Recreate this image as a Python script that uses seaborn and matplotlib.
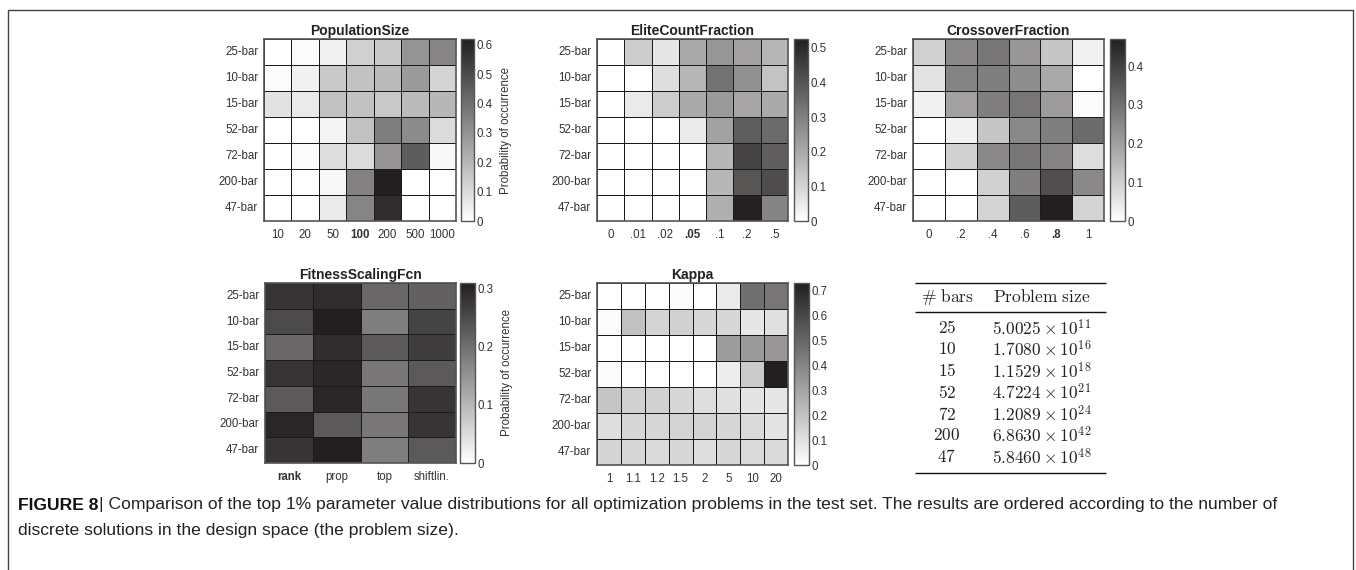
import numpy as np
import pandas as pd
import matplotlib
matplotlib.use("Agg")
import matplotlib.pyplot as plt
import seaborn as sns
from matplotlib.colors import LinearSegmentedColormap

# ---------------------------------------------------------------- data
problems = ["25-bar", "10-bar", "15-bar", "52-bar", "72-bar", "200-bar", "47-bar"]

pop_labels = ["10", "20", "50", "100", "200", "500", "1000"]
pop_prob = [
    [0.00, 0.01, 0.04, 0.13, 0.15, 0.30, 0.34],
    [0.01, 0.04, 0.15, 0.17, 0.19, 0.28, 0.12],
    [0.08, 0.06, 0.17, 0.17, 0.15, 0.19, 0.20],
    [0.00, 0.00, 0.03, 0.17, 0.36, 0.32, 0.10],
    [0.00, 0.01, 0.09, 0.10, 0.30, 0.45, 0.02],
    [0.00, 0.00, 0.02, 0.35, 0.62, 0.00, 0.00],
    [0.00, 0.00, 0.06, 0.34, 0.58, 0.00, 0.00],
]

elite_labels = ["0", ".01", ".02", ".05", ".1", ".2", ".5"]
elite_prob = [
    [0.00, 0.12, 0.06, 0.20, 0.25, 0.22, 0.17],
    [0.00, 0.00, 0.08, 0.17, 0.33, 0.26, 0.14],
    [0.00, 0.05, 0.12, 0.20, 0.24, 0.21, 0.20],
    [0.00, 0.00, 0.00, 0.05, 0.22, 0.38, 0.35],
    [0.00, 0.00, 0.00, 0.00, 0.17, 0.44, 0.38],
    [0.00, 0.00, 0.00, 0.00, 0.17, 0.40, 0.42],
    [0.00, 0.00, 0.00, 0.00, 0.19, 0.52, 0.29],
]

cross_labels = ["0", ".2", ".4", ".6", ".8", "1"]
cross_prob = [
    [0.10, 0.25, 0.29, 0.22, 0.12, 0.03],
    [0.06, 0.26, 0.27, 0.24, 0.18, 0.00],
    [0.03, 0.20, 0.27, 0.29, 0.21, 0.01],
    [0.00, 0.03, 0.12, 0.25, 0.27, 0.31],
    [0.00, 0.10, 0.25, 0.29, 0.26, 0.07],
    [0.00, 0.00, 0.10, 0.27, 0.37, 0.25],
    [0.00, 0.00, 0.09, 0.34, 0.47, 0.09],
]

fit_labels = ["rank", "prop", "top", "shiftlin."]
fit_prob = [
    [0.28, 0.29, 0.21, 0.22],
    [0.25, 0.31, 0.18, 0.26],
    [0.21, 0.29, 0.23, 0.27],
    [0.28, 0.30, 0.19, 0.23],
    [0.23, 0.30, 0.19, 0.28],
    [0.30, 0.23, 0.19, 0.28],
    [0.28, 0.31, 0.18, 0.23],
]

kappa_labels = ["1", "1.1", "1.2", "1.5", "2", "5", "10", "20"]
kappa_prob = [
    [0.00, 0.00, 0.00, 0.01, 0.00, 0.07, 0.47, 0.45],
    [0.01, 0.20, 0.14, 0.15, 0.13, 0.13, 0.08, 0.10],
    [0.00, 0.00, 0.00, 0.00, 0.00, 0.32, 0.33, 0.34],
    [0.01, 0.00, 0.00, 0.00, 0.00, 0.06, 0.17, 0.73],
    [0.19, 0.15, 0.15, 0.13, 0.11, 0.10, 0.09, 0.08],
    [0.11, 0.13, 0.13, 0.14, 0.14, 0.13, 0.12, 0.09],
    [0.14, 0.13, 0.12, 0.13, 0.11, 0.13, 0.12, 0.12],
]

table_bars = ["25", "10", "15", "52", "72", "200", "47"]
table_mantissa = ["5.0025", "1.7080", "1.1529", "4.7224", "1.2089", "6.8630", "5.8460"]
table_exponent = ["11", "16", "18", "21", "24", "42", "48"]

caption_head = "FIGURE 8"
caption_line1 = ("| Comparison of the top 1% parameter value distributions for all optimization "
                 "problems in the test set. The results are ordered according to the number of")
caption_line2 = "discrete solutions in the design space (the problem size)."

# ---------------------------------------------------------------- style
sns.set_theme(style="white")
plt.rcParams["font.family"] = ["Liberation Sans", "DejaVu Sans"]
plt.rcParams["mathtext.fontset"] = "cm"

W, H = 1356, 570
fig = plt.figure(figsize=(W / 100, H / 100), dpi=100)
fig.patch.set_facecolor("white")

TXT = "#333333"
cmap = LinearSegmentedColormap.from_list("occ", ["#ffffff", "#231f20"])


def px_axes(x0, y0, x1, y1):
    return fig.add_axes([x0 / W, 1 - y1 / H, (x1 - x0) / W, (y1 - y0) / H])


def panel(title, values, cols, box, cbox, vmax, ticks, bold=None, label=False):
    ax = px_axes(*box)
    cax = px_axes(*cbox)
    df = pd.DataFrame(values, index=problems, columns=cols)
    sns.heatmap(df, ax=ax, cmap=cmap, vmin=0, vmax=vmax, cbar_ax=cax,
                linewidths=0.7, linecolor="#1a1a1a", square=False)
    ax.set_title(title, fontsize=10, fontweight="bold", color="#222222", pad=3)
    ax.tick_params(axis="both", length=0, labelsize=8.3, colors=TXT)
    ax.tick_params(axis="x", pad=6)
    ax.tick_params(axis="y", pad=4)
    ax.set_yticklabels(problems, rotation=0)
    ax.set_xticklabels(cols, rotation=0)
    for t in ax.get_xticklabels():
        if t.get_text() == bold:
            t.set_fontweight("bold")
    for s in ax.spines.values():
        s.set_visible(True)
        s.set_color("#555555")
        s.set_linewidth(1.2)
    cb = ax.collections[0].colorbar
    cb.set_ticks(ticks)
    cb.set_ticklabels([("0" if t == 0 else f"{t:.1f}") for t in ticks])
    cb.outline.set_edgecolor("#555555")
    cb.outline.set_linewidth(1.0)
    cax.tick_params(direction="in", length=3, width=0.6, color="#555555",
                    labelsize=8.3, labelcolor=TXT, pad=2)
    if label:
        cb.set_label("Probability of occurrence", fontsize=8.3, color=TXT, labelpad=5)
    return ax


panel("PopulationSize", pop_prob, pop_labels, (264, 39, 456, 221), (461, 39, 474, 221),
      0.62, [0, 0.1, 0.2, 0.3, 0.4, 0.5, 0.6], bold="100", label=True)
panel("EliteCountFraction", elite_prob, elite_labels, (597, 39, 788, 221), (794, 39, 808, 221),
      0.526, [0, 0.1, 0.2, 0.3, 0.4, 0.5], bold=".05")
panel("CrossoverFraction", cross_prob, cross_labels, (913, 39, 1104, 221), (1110, 39, 1125, 221),
      0.47, [0, 0.1, 0.2, 0.3, 0.4], bold=".8")
panel("FitnessScalingFcn", fit_prob, fit_labels, (265, 283, 456, 463), (460, 283, 475, 463),
      0.31, [0, 0.1, 0.2, 0.3], bold="rank", label=True)
panel("Kappa", kappa_prob, kappa_labels, (597, 283, 788, 465), (794, 283, 809, 465),
      0.73, [0, 0.1, 0.2, 0.3, 0.4, 0.5, 0.6, 0.7])

# ---------------------------------------------------------------- table of problem sizes
tab = px_axes(900, 275, 1120, 480)
tab.set_xlim(900, 1120)
tab.set_ylim(480, 275)
tab.axis("off")
for yy in (283, 312, 473):
    tab.plot([915, 1106], [yy, yy], color="#111111", lw=1.0, solid_capstyle="butt")
tab.text(947, 297, r"$\mathrm{\#\ bars}$", ha="center", va="center", fontsize=12.5, color="#222222")
tab.text(1042, 297, r"$\mathrm{Problem\ size}$", ha="center", va="center", fontsize=12.5, color="#222222")
row_y = np.linspace(328, 457, len(table_bars))
for yy, b, m, e in zip(row_y, table_bars, table_mantissa, table_exponent):
    tab.text(947, yy, rf"${b}$", ha="center", va="center", fontsize=12.5, color="#222222")
    tab.text(1042, yy, rf"${m} \times 10^{{{e}}}$", ha="center", va="center",
             fontsize=12.5, color="#222222")

# ---------------------------------------------------------------- frame and caption
frame = fig.add_axes([0, 0, 1, 1], zorder=-1)
frame.set_xlim(0, W)
frame.set_ylim(H, 0)
frame.axis("off")
frame.plot([8, 8, 1353, 1353], [H + 5, 10, 10, H + 5], color="#444444", lw=1.0)

cap_size = 12.6
head = fig.text(18 / W, 1 - 505 / H, caption_head, fontsize=cap_size, fontweight="bold",
                color="#111111", va="center")
fig.canvas.draw()
ext = head.get_window_extent(fig.canvas.get_renderer())
fig.text((ext.x1 + 1) / W, 1 - 505 / H, caption_line1, fontsize=cap_size,
         color="#222222", va="center")
fig.text(18 / W, 1 - 531 / H, caption_line2, fontsize=cap_size,
         color="#222222", va="center")

fig.savefig("out.png", dpi=100, facecolor="white")
